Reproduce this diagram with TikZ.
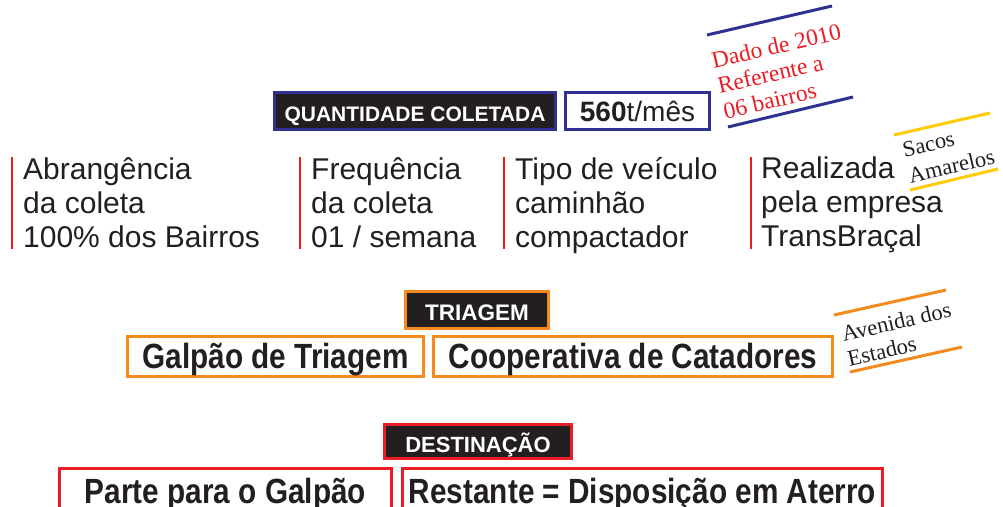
\documentclass[tikz,border=0pt]{standalone}
\usepackage{fontspec}
\setmainfont{Liberation Sans}
\newfontfamily\notefont{Liberation Serif}
\newfontfamily\condbf[FakeStretch=0.85]{Liberation Sans}
\definecolor{ink}{HTML}{231F20}
\definecolor{dark}{HTML}{231F20}
\definecolor{navy}{HTML}{2E3192}
\definecolor{brightred}{HTML}{ED1C24}
\definecolor{orng}{HTML}{F58A1F}
\definecolor{yell}{HTML}{FFCB05}
\tikzset{
  darkbox/.style={draw=#1, line width=3pt, fill=dark, text=white,
    font=\bfseries\fontsize{21}{21}\selectfont, inner sep=0pt, text height=20pt, text depth=0pt},
  whitebox/.style={draw=#1, line width=3pt, fill=white, text=ink, inner sep=0pt},
  bigtxt/.style={font=\condbf\bfseries\fontsize{35}{35}\selectfont, text height=23pt, text depth=0pt},
  colbox/.style={anchor=north west, align=left, inner sep=0pt, text=ink,
    font=\fontsize{30}{34}\selectfont},
  redbar/.style={draw=brightred, line width=2.5pt},
  note/.style={rotate=13, anchor=north west, align=left, inner sep=0pt,
    font=\notefont\fontsize{23.5}{26}\selectfont},
  stroke/.style={draw=#1, line width=3pt}
}
\begin{document}
\begin{tikzpicture}[x=1pt,y=-1pt]
\useasboundingbox (0,0) rectangle (1003,506);
\fill[white] (0,0) rectangle (1003,506);
\clip (0,0) rectangle (1003,506);

% Quantidade coletada
\node[darkbox=navy, minimum width=281pt, minimum height=37pt] (qc) at (415,111) {QUANTIDADE COLETADA};
\node[whitebox=navy, minimum width=144pt, minimum height=37pt,
  font=\fontsize{28}{28}\selectfont, text height=20pt, text depth=0pt] (qv) at (637.5,111) {\textbf{560}t/mês};

% note: dado de 2010
\draw[stroke=navy] (707,35) -- (832,6);
\draw[stroke=navy] (728,127) -- (853,97);
\node[note, text=brightred] (dado) at (710,52.5) {Dado de 2010\\Referente a\\06 bairros};

% columns
\draw[redbar] (12,157) -- (12,249);
\draw[redbar] (300,157) -- (300,249);
\draw[redbar] (504,157) -- (504,249);
\draw[redbar] (751,157) -- (751,249);
\node[colbox] (c1) at (23,157) {Abrangência\\da coleta\\100\% dos Bairros};
\node[colbox] (c2) at (311,157) {Frequência\\da coleta\\01 / semana};
\node[colbox] (c3) at (515,157) {Tipo de veículo\\caminhão\\compactador};
\node[colbox] (c4) at (761,157) {Realizada\\pela empresa\\TransBraçal};

% note: sacos amarelos
\draw[stroke=yell] (894,135) -- (990,113);
\draw[stroke=yell] (910,190) -- (998,169);
\node[note, text=ink, font=\notefont\fontsize{22.5}{27}\selectfont] (sacos) at (901,142.5) {Sacos\\Amarelos};

% triagem
\node[darkbox=orng, font=\bfseries\fontsize{22.5}{22.5}\selectfont, minimum width=143pt, minimum height=37pt] (tri) at (477,310) {TRIAGEM};
\node[whitebox=orng, bigtxt, minimum width=296pt, minimum height=40pt] (gal) at (275.5,356.5) {Galpão de Triagem};
\node[whitebox=orng, bigtxt, minimum width=399pt, minimum height=40pt] (coop) at (633,356.5) {Cooperativa de Catadores};

% note: avenida dos estados
\draw[stroke=orng] (834,315) -- (946,290);
\draw[stroke=orng] (850,372) -- (962,347);
\node[note, text=ink, font=\notefont\fontsize{22.5}{25.5}\selectfont] (aven) at (840,326.5) {Avenida dos\\Estados};

% destinacao
\node[darkbox=brightred, font=\bfseries\fontsize{22}{22}\selectfont, text height=21pt, minimum width=187pt, minimum height=34pt] (dest) at (478,441.5) {DESTINAÇÃO};
\node[whitebox=brightred, bigtxt, text height=25pt, minimum width=332pt, minimum height=44pt] (parte) at (225.5,490.5) {Parte para o Galpão};
\node[whitebox=brightred, bigtxt, text height=25pt, minimum width=480pt, minimum height=44pt] (rest) at (642.5,490.5) {Restante = Disposição em Aterro};
\end{tikzpicture}
\end{document}
